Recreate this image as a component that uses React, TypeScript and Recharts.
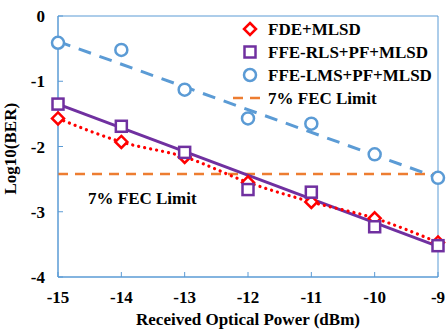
import {
  ComposedChart,
  Customized,
  Line,
  ReferenceArea,
  ReferenceLine,
  XAxis,
  YAxis,
} from 'recharts';

const power = [-15, -14, -13, -12, -11, -10, -9];
const fdeMlsd = [-1.57, -1.93, -2.16, -2.55, -2.85, -3.1, -3.47];
const rlsPfMlsd = [-1.35, -1.69, -2.09, -2.66, -2.7, -3.23, -3.52];
const lmsPfMlsd = [-0.41, -0.52, -1.13, -1.57, -1.65, -2.12, -2.48];
const fecLimit = -2.42;

// straight fit lines, end points
const trendPower = [-15, -9];
const rlsTrend = [-1.35, -3.53];
const lmsTrend = [-0.39, -2.48];

const xTicks = [-15, -14, -13, -12, -11, -10, -9];
const yTicks = [0, -1, -2, -3, -4];

const FONT = "'Liberation Serif', 'Times New Roman', serif";
const BLUE = '#5b9bd5';
const PURPLE = '#7030a0';
const RED = '#ff0000';
const ORANGE = '#ed7d31';
const FS = 17;

const rows = power.map((p, i) => ({
  power: p,
  fde: fdeMlsd[i],
  rls: rlsPfMlsd[i],
  lms: lmsPfMlsd[i],
}));
const rlsTrendRows = trendPower.map((p, i) => ({ power: p, v: rlsTrend[i] }));
const lmsTrendRows = trendPower.map((p, i) => ({ power: p, v: lmsTrend[i] }));

const Diamond = ({ cx, cy }: any) => (
  <path
    d={`M${cx},${cy - 6} L${cx + 6},${cy} L${cx},${cy + 6} L${cx - 6},${cy} Z`}
    fill="#fff"
    stroke={RED}
    strokeWidth={2.5}
  />
);

const Square = ({ cx, cy }: any) => (
  <rect
    x={cx - 5.5}
    y={cy - 5.5}
    width={11}
    height={11}
    fill="#fff"
    stroke={PURPLE}
    strokeWidth={2.5}
  />
);

const Circle = ({ cx, cy }: any) => (
  <circle cx={cx} cy={cy} r={6} fill="#fff" stroke={BLUE} strokeWidth={2.5} />
);

const XTick = ({ x, y, payload }: any) => (
  <g>
    <line x1={x} x2={x} y1={y - 5} y2={y} stroke={BLUE} strokeWidth={1} />
    <text
      x={x}
      y={y + 26}
      textAnchor="middle"
      fontFamily={FONT}
      fontWeight="bold"
      fontSize={FS}
      fill="#000"
    >
      {payload.value}
    </text>
  </g>
);

const YTick = ({ x, y, payload }: any) => (
  <g>
    <line x1={x} x2={x + 5} y1={y} y2={y} stroke={BLUE} strokeWidth={1} />
    <text
      x={x - 13}
      y={y + 6}
      textAnchor="end"
      fontFamily={FONT}
      fontWeight="bold"
      fontSize={FS}
      fill="#000"
    >
      {payload.value}
    </text>
  </g>
);

const FecLabel = ({ viewBox }: any) => (
  <text
    x={viewBox.x + 30}
    y={viewBox.y + 30}
    fontFamily={FONT}
    fontWeight="bold"
    fontSize={FS}
    fill="#000"
  >
    7% FEC Limit
  </text>
);

const legendText = {
  fontFamily: FONT,
  fontWeight: 'bold' as const,
  fontSize: FS,
  fill: '#000',
};

const ChartLegend = () => (
  <g>
    <Diamond cx={250} cy={29} />
    <text x={268} y={35} {...legendText}>FDE+MLSD</text>
    <Square cx={250} cy={52} />
    <text x={268} y={58} {...legendText}>FFE-RLS+PF+MLSD</text>
    <Circle cx={250} cy={75} />
    <text x={268} y={81} {...legendText}>FFE-LMS+PF+MLSD</text>
    <line
      x1={233}
      x2={263}
      y1={98}
      y2={98}
      stroke={ORANGE}
      strokeWidth={2.5}
      strokeDasharray="10 7"
    />
    <text x={268} y={104} {...legendText}>7% FEC Limit</text>
  </g>
);

export default function App() {
  return (
    <div style={{ position: 'absolute', left: 0, top: 0 }}>
      <ComposedChart
        width={447}
        height={329}
        data={rows}
        margin={{ top: 16, right: 9, left: 0, bottom: 0 }}
      >
        <XAxis
          dataKey="power"
          type="number"
          domain={[-15, -9]}
          ticks={xTicks}
          height={52}
          axisLine={{ stroke: BLUE }}
          tickLine={false}
          tickSize={0}
          tickMargin={0}
          tick={<XTick />}
          label={{
            value: 'Received Optical Power (dBm)',
            position: 'insideBottom',
            offset: 4,
            fontFamily: FONT,
            fontWeight: 'bold',
            fontSize: FS,
            fill: '#000',
          }}
        />
        <YAxis
          type="number"
          domain={[-4, 0]}
          ticks={yTicks}
          width={58}
          axisLine={{ stroke: BLUE }}
          tickLine={false}
          tickSize={0}
          tickMargin={0}
          tick={<YTick />}
          label={{
            value: 'Log10(BER)',
            angle: -90,
            position: 'insideLeft',
            offset: 10,
            dy: 48,
            fontFamily: FONT,
            fontWeight: 'bold',
            fontSize: FS,
            fill: '#000',
          }}
        />
        <ReferenceArea
          x1={-15}
          x2={-9}
          y1={-4}
          y2={0}
          fill="none"
          stroke={BLUE}
          strokeWidth={1}
        />
        <ReferenceLine
          y={fecLimit}
          stroke={ORANGE}
          strokeWidth={2.5}
          strokeDasharray="10 7"
          label={<FecLabel />}
        />
        <Line
          data={lmsTrendRows}
          dataKey="v"
          stroke={BLUE}
          strokeWidth={3}
          strokeDasharray="13 9"
          dot={false}
          isAnimationActive={false}
        />
        <Line
          data={rlsTrendRows}
          dataKey="v"
          stroke={PURPLE}
          strokeWidth={3}
          dot={false}
          isAnimationActive={false}
        />
        <Line
          dataKey="fde"
          type="monotone"
          stroke={RED}
          strokeWidth={3.2}
          strokeLinecap="round"
          strokeDasharray="0.1 6"
          dot={<Diamond />}
          isAnimationActive={false}
        />
        <Line
          dataKey="rls"
          stroke="none"
          dot={<Square />}
          isAnimationActive={false}
        />
        <Line
          dataKey="lms"
          stroke="none"
          dot={<Circle />}
          isAnimationActive={false}
        />
        <Customized component={ChartLegend} />
      </ComposedChart>
    </div>
  );
}
